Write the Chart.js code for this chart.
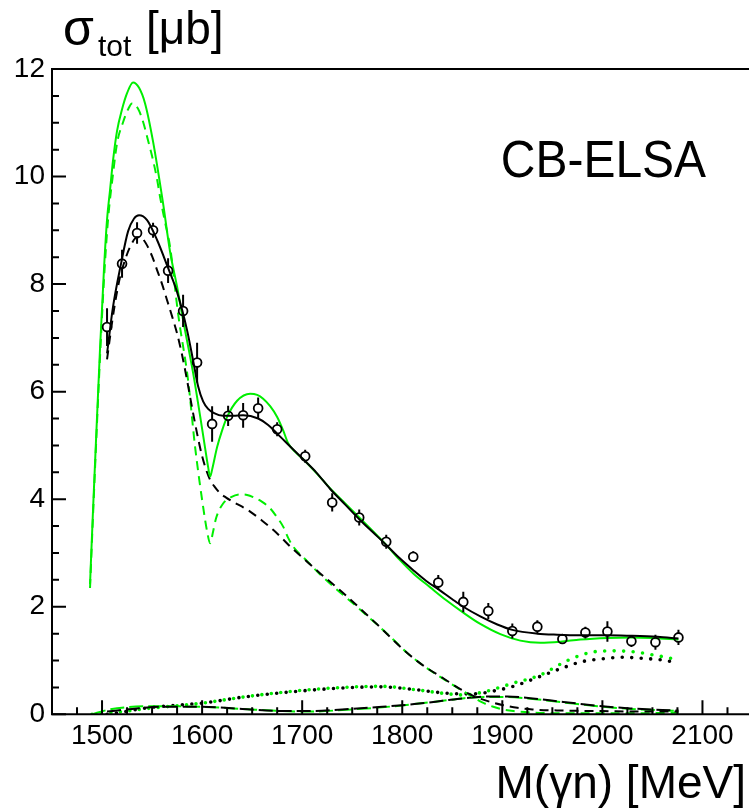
<!DOCTYPE html>
<html><head><meta charset="utf-8">
<script src="https://cdn.jsdelivr.net/npm/chart.js@4.4.1/dist/chart.umd.min.js"></script>
<style>
html,body{margin:0;padding:0;overflow:hidden;background:#fff;width:749px;height:810px;}
#wrap{position:absolute;left:0;top:0;width:760px;height:810px;}
</style></head><body>
<div id="wrap"><canvas id="c" width="760" height="810"></canvas></div>
<script>
// ---- data points (CB-ELSA) ----
const pointE = [1505,1520,1535,1551,1566,1581,1595,1610,1626,1641,1656,1675,1703,1730,1757,1784,1811,1836,1861,1886,1910,1935,1960,1983,2005,2029,2053,2076];
const pointSigma = [7.20,8.38,8.95,9.00,8.25,7.50,6.54,5.40,5.55,5.56,5.69,5.30,4.80,3.94,3.66,3.21,2.93,2.45,2.09,1.92,1.55,1.63,1.40,1.52,1.54,1.36,1.34,1.43];
const pointErr = [0.35,0.26,0.20,0.14,0.23,0.30,0.37,0.33,0.19,0.23,0.20,0.13,0.12,0.17,0.15,0.13,0.10,0.14,0.19,0.15,0.14,0.12,0.08,0.11,0.19,0.11,0.14,0.14];

// ---- black solid: total fit ----
const blackSolidE = [1505,1511,1519,1526,1532,1537,1545,1555,1566,1575,1585,1591,1596,1601,1606,1612,1621,1631,1641,1656,1666,1675,1688,1700,1714,1728,1743,1758,1771,1784,1797,1811,1824,1838,1850,1861,1878,1895,1910,1935,1955,1978,2005,2028,2055,2076];
const blackSolidS = [6.71,7.58,8.38,8.98,9.22,9.28,9.19,8.82,8.30,7.85,7.14,6.58,6.10,5.82,5.68,5.60,5.55,5.55,5.56,5.50,5.38,5.22,4.98,4.76,4.50,4.19,3.90,3.61,3.38,3.15,2.91,2.68,2.48,2.30,2.14,2.00,1.82,1.67,1.57,1.50,1.48,1.47,1.47,1.46,1.44,1.41];

// ---- green solid ----
const greenSolidE = [1488,1491,1494,1498,1502,1505,1508,1511,1515,1520,1525,1531,1537,1543,1551,1561,1568,1575,1581,1591,1598,1603,1606,1608,1610,1615,1620,1625,1635,1648,1655,1661,1668,1675,1681,1686,1693,1700,1714,1728,1743,1758,1771,1784,1797,1811,1828,1844,1861,1878,1898,1918,1938,1958,1978,2005,2028,2050,2076];
const greenSolidS = [2.42,3.80,5.10,6.80,8.30,9.20,9.75,10.30,10.85,11.25,11.55,11.75,11.65,11.36,10.65,9.50,8.60,7.95,7.33,6.35,5.55,4.95,4.60,4.42,4.55,4.97,5.28,5.53,5.83,5.96,5.94,5.87,5.73,5.53,5.28,5.04,4.88,4.76,4.49,4.20,3.92,3.64,3.40,3.15,2.88,2.62,2.36,2.12,1.89,1.68,1.49,1.37,1.33,1.35,1.39,1.42,1.43,1.42,1.39];

// ---- green dashed ----
const greenDashE = [1488,1491,1494,1498,1502,1506,1511,1515,1521,1526,1530,1536,1541,1546,1551,1555,1558,1563,1568,1576,1586,1593,1601,1605,1608,1611,1614,1621,1629,1638,1645,1651,1660,1668,1675,1681,1686,1691,1696,1700,1718,1734,1751,1765,1779,1791,1805,1820,1841,1858,1870,1880,1891,1901,1911,1930,1960,2000,2040,2076];
const greenDashS = [2.35,3.70,5.00,6.65,8.10,9.20,10.05,10.62,11.01,11.25,11.36,11.26,11.02,10.67,10.30,9.95,9.62,9.15,8.69,7.45,6.21,4.97,3.86,3.40,3.18,3.40,3.65,3.92,4.04,4.09,4.08,4.04,3.95,3.83,3.66,3.49,3.28,3.12,3.01,2.94,2.60,2.33,2.06,1.83,1.60,1.39,1.14,0.92,0.66,0.46,0.33,0.22,0.14,0.09,0.06,0.03,0.02,0.02,0.02,0.03];

// ---- black dashed ----
const blackDashE = [1505,1508,1513,1518,1523,1528,1535,1540,1545,1550,1555,1560,1565,1570,1575,1580,1585,1590,1595,1600,1604,1608,1613,1618,1624,1631,1640,1648,1660,1671,1680,1688,1700,1718,1732,1745,1760,1779,1791,1805,1820,1841,1858,1874,1890,1901,1915,1930,1960,2000,2040,2076];
const blackDashS = [6.60,7.02,7.65,8.13,8.45,8.69,8.87,8.85,8.72,8.52,8.26,8.00,7.70,7.40,7.08,6.68,6.21,5.70,5.22,4.80,4.55,4.36,4.22,4.11,4.03,3.95,3.86,3.77,3.60,3.43,3.27,3.12,2.92,2.62,2.40,2.19,1.93,1.60,1.38,1.14,0.92,0.67,0.47,0.32,0.22,0.17,0.12,0.09,0.07,0.06,0.05,0.05];

// ---- long-dashed bump (black / green) ----
const blackBumpE = [1505,1530,1560,1600,1640,1680,1710,1740,1780,1812,1840,1862,1886,1905,1928,1961,1995,2028,2076];
const blackBumpS = [0.05,0.10,0.14,0.14,0.10,0.06,0.06,0.09,0.14,0.19,0.25,0.30,0.33,0.33,0.30,0.23,0.16,0.11,0.07];
const greenBumpE = [1490,1505,1523,1555,1600,1640,1680,1710,1740,1780,1812,1840,1862,1886,1905,1928,1961,1995,2028,2076];
const greenBumpS = [0.00,0.08,0.13,0.15,0.14,0.10,0.06,0.05,0.08,0.13,0.19,0.25,0.30,0.32,0.32,0.29,0.22,0.15,0.10,0.06];

// ---- dotted (black / green) ----
const blackDotE = [1505,1520,1541,1575,1601,1641,1691,1741,1779,1812,1846,1873,1893,1913,1933,1960,1980,2000,2020,2040,2060,2076];
const blackDotS = [0.00,0.04,0.11,0.17,0.21,0.32,0.42,0.49,0.51,0.46,0.39,0.38,0.44,0.53,0.67,0.86,0.98,1.03,1.06,1.04,1.01,0.95];
const greenDotE = [1490,1520,1541,1575,1601,1641,1691,1741,1779,1812,1846,1861,1880,1911,1938,1965,1991,2011,2032,2052,2072];
const greenDotS = [0.00,0.05,0.10,0.16,0.21,0.32,0.43,0.50,0.52,0.46,0.38,0.36,0.41,0.58,0.73,1.00,1.16,1.18,1.16,1.10,1.03];

// ---- axes ----
const xMin = 1450, xMax = 2150, xStep = 25, xMajor = 100;
const yMin = 0, yMax = 12, yStep = 0.5, yMajor = 2;

const GREEN = '#00ee00';
const FONT = '"Liberation Sans", Arial, Helvetica, sans-serif';

function pts(xs, ys){ return xs.map((x,i)=>({x:x, y:ys[i]})); }
function curve(xs, ys, color, style, order){
  const d = {data: pts(xs, ys), showLine: true, borderColor: color, backgroundColor: color,
    pointRadius: 0, borderWidth: 2, cubicInterpolationMode: 'monotone', fill: false, order: order};
  if (style === 'dash') d.borderDash = [9, 6];
  if (style === 'long') d.borderDash = [14, 5];
  if (style === 'dot') { d.borderDash = [0, 9.5]; d.borderCapStyle = 'round'; d.borderWidth = 3.6; }
  return d;
}

const isMult = (v, m) => Math.abs(v/m - Math.round(v/m)) < 1e-6;

const frameAndTicks = {
  id: 'frameAndTicks',
  afterDraw(chart){
    const {ctx, chartArea: a} = chart;
    const xs = chart.scales.x, ys = chart.scales.y;
    ctx.save();
    ctx.strokeStyle = '#000'; ctx.lineWidth = 2; ctx.lineCap = 'butt';
    ctx.beginPath();
    ctx.rect(a.left, a.top, a.right - a.left, a.bottom - a.top);
    ctx.stroke();
    ctx.beginPath();
    xs.ticks.forEach(t => {
      const px = xs.getPixelForValue(t.value);
      const len = isMult(t.value, xMajor) ? 14 : 7;
      ctx.moveTo(px, a.bottom); ctx.lineTo(px, a.bottom - len);
    });
    ys.ticks.forEach(t => {
      const py = ys.getPixelForValue(t.value);
      const len = isMult(t.value, yMajor) ? 14 : 7;
      ctx.moveTo(a.left, py); ctx.lineTo(a.left + len, py);
    });
    ctx.stroke();
    // texts
    ctx.fillStyle = '#000';
    ctx.textBaseline = 'alphabetic';
    ctx.textAlign = 'left';
    ctx.font = '50px ' + FONT;
    ctx.fillText('σ', 63, 45);
    ctx.font = '30px ' + FONT;
    ctx.fillText('tot', 98, 56);
    ctx.font = '46px ' + FONT;
    ctx.fillText('[μb]', 146, 44);
    ctx.textAlign = 'right';
    ctx.save();
    ctx.translate(706, 177);
    ctx.scale(0.94, 1);
    ctx.font = '51px ' + FONT;
    ctx.fillText('CB-ELSA', 0, 0);
    ctx.restore();
    ctx.font = '46px ' + FONT;
    ctx.fillText('M(γn) [MeV]', 746, 798);
    ctx.restore();
  }
};

const errorBars = {
  id: 'errorBars',
  afterDatasetsDraw(chart){
    const {ctx} = chart;
    const xs = chart.scales.x, ys = chart.scales.y;
    const r = 4.4;
    ctx.save();
    ctx.strokeStyle = '#000'; ctx.lineWidth = 2;
    ctx.beginPath();
    pointE.forEach((e, i) => {
      const px = xs.getPixelForValue(e);
      const pc = ys.getPixelForValue(pointSigma[i]);
      const pt = ys.getPixelForValue(pointSigma[i] + pointErr[i]);
      const pb = ys.getPixelForValue(pointSigma[i] - pointErr[i]);
      if (pc - r > pt) { ctx.moveTo(px, pt); ctx.lineTo(px, pc - r); }
      if (pb > pc + r) { ctx.moveTo(px, pc + r); ctx.lineTo(px, pb); }
    });
    ctx.stroke();
    ctx.restore();
  }
};

const datasets = [
  {data: pts(pointE, pointSigma), showLine: false, pointStyle: 'circle', pointRadius: 4.4,
   pointBorderWidth: 1.8, pointBorderColor: '#000', pointBackgroundColor: 'rgba(0,0,0,0)', order: 0},
  curve(blackSolidE, blackSolidS, '#000', 'solid', 1),
  curve(greenSolidE, greenSolidS, GREEN, 'solid', 2),
  curve(blackDashE, blackDashS, '#000', 'dash', 3),
  curve(greenDashE, greenDashS, GREEN, 'dash', 4),
  curve(blackBumpE, blackBumpS, '#000', 'long', 5),
  curve(greenBumpE, greenBumpS, GREEN, 'long', 6),
  curve(blackDotE, blackDotS, '#000', 'dot', 7),
  curve(greenDotE, greenDotS, GREEN, 'dot', 8)
];

new Chart(document.getElementById('c'), {
  type: 'scatter',
  data: {datasets},
  options: {
    responsive: false, animation: false, devicePixelRatio: 1,
    layout: {padding: {left: 0, right: 7.5, top: 69, bottom: 0}},
    plugins: {legend: {display: false}, tooltip: {enabled: false}},
    scales: {
      x: {
        type: 'linear', min: xMin, max: xMax,
        grid: {display: false, drawTicks: false},
        border: {display: false},
        ticks: {stepSize: xStep, autoSkip: false, maxRotation: 0, padding: 5,
          color: '#000', font: {size: 28, family: FONT},
          callback: v => (isMult(v, xMajor) && v > xMin && v < xMax) ? String(v) : ''},
        afterFit: s => { s.height = 810 - 714.3; }
      },
      y: {
        type: 'linear', min: yMin, max: yMax,
        grid: {display: false, drawTicks: false},
        border: {display: false},
        ticks: {stepSize: yStep, autoSkip: false, padding: 7,
          color: '#000', font: {size: 28, family: FONT},
          callback: v => isMult(v, yMajor) ? String(v) : ''},
        afterFit: s => { s.width = 52; }
      }
    }
  },
  plugins: [frameAndTicks, errorBars]
});
</script>
</body></html>
